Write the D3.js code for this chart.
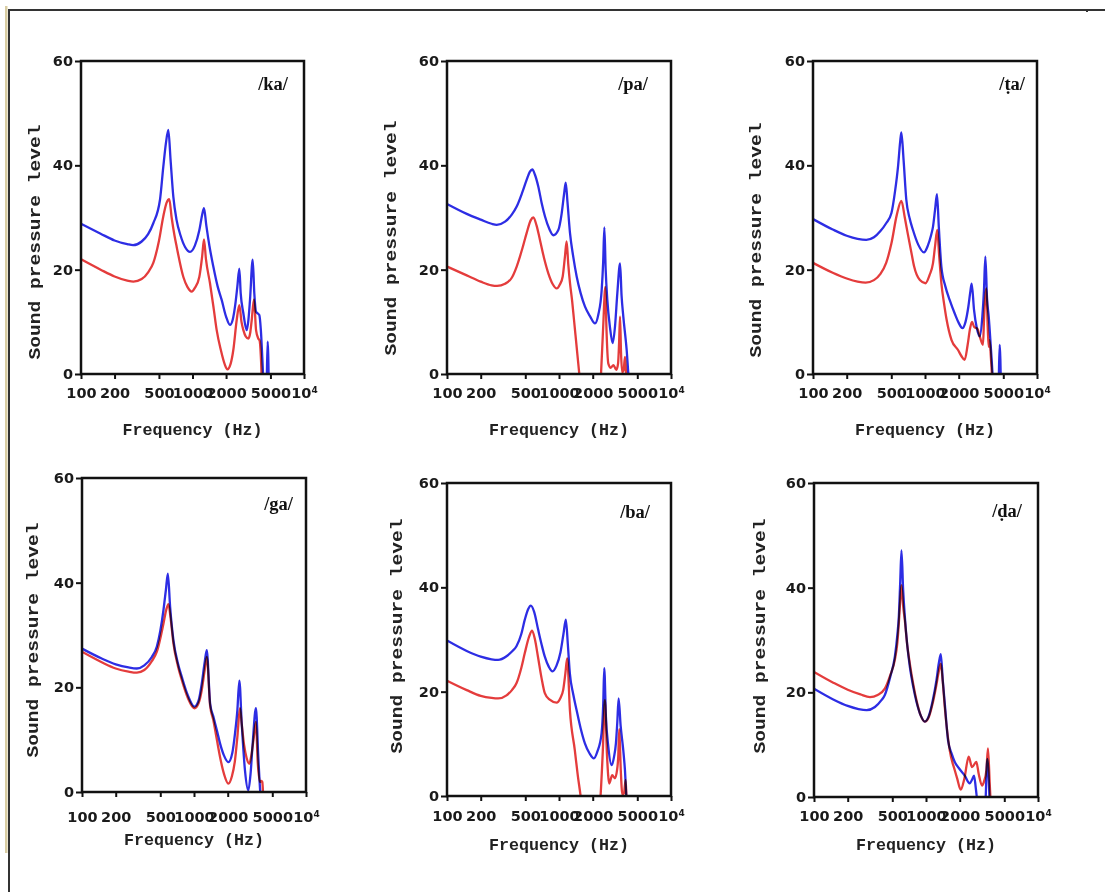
<!DOCTYPE html>
<html lang="en">
  <head>
    <meta charset="utf-8">
    <title>Sound pressure level vs frequency</title>
    <script src="https://cdn.jsdelivr.net/npm/d3@7/dist/d3.min.js"></script>
    <style type="text/css">
body,html{
    margin: 0;
    padding: 0;
    background: #fff;
  }
svg { display: block; }
.tick text{
    font-family: "DejaVu Sans", sans-serif;
    font-weight: bold;
    font-size: 14.5px;
    fill: #1a1a1a;
  }
.tick line{ stroke: #111; stroke-width: 2; }
.title{
    font-family: "Liberation Mono", "DejaVu Sans Mono", monospace;
    font-weight: bold;
    font-size: 17px;
    fill: #222;
  }
.phon{
    font-family: "Liberation Serif", "DejaVu Serif", serif;
    font-weight: bold;
    font-size: 18.5px;
    fill: #111;
  }
    </style>
  </head>
  <body>
    <script type="text/javascript">
      const w = 1105;
      const h = 892;

      // panel labels and axis ticks
      const phonemes = ["/ka/", "/pa/", "/ṭa/", "/ga/", "/ba/", "/ḍa/"];
      const xTicks = [100, 200, 500, 1000, 2000, 5000, 10000];
      const yTicks = [0, 20, 40, 60];
      const xTitle = "Frequency (Hz)";
      const yTitle = "Sound pressure level";

      // [frequency Hz, dB] (below 0 = off the bottom of the plot)
      const kaBlue = [[100,28.8],[150,26.9],[200,25.6],[260,24.9],[293,24.7],[350,25.4],[400,26.8],[445,28.9],[511,33.4],[547,39.7],[578,44.3],[607,46.8],[636,41.0],[673,34.0],[720,29.5],[780,26.6],[860,24.3],[950,23.4],[1050,24.6],[1150,27.5],[1220,30.5],[1268,31.8],[1330,28.5],[1420,24.5],[1537,20.6],[1680,16.8],[1827,14.2],[2000,11.0],[2168,9.4],[2300,10.5],[2405,12.9],[2523,16.7],[2630,20.2],[2705,15.5],[2856,11.7],[3063,8.4],[3170,10.3],[3279,14.2],[3466,21.9],[3583,15.5],[3715,11.9],[3850,11.6],[3972,11.3],[4100,8.5],[4230,3.0],[4318,-1],[4450,-3],[4600,-3],[4724,6.2],[4840,-3]];
      const kaRed = [[100,22.0],[150,20.0],[200,18.7],[260,17.9],[295,17.7],[350,18.2],[400,19.5],[445,21.3],[500,25.5],[547,30.2],[585,32.8],[619,33.5],[650,30.0],[690,26.5],[721,24.4],[828,18.6],[900,16.7],[984,15.8],[1050,16.5],[1151,18.6],[1220,22.5],[1268,25.8],[1320,22.0],[1435,17.4],[1550,12.5],[1648,8.4],[1800,4.5],[1950,1.8],[2052,0.9],[2200,2.0],[2323,4.6],[2490,10.3],[2630,13.2],[2750,10.0],[2860,8.4],[3000,7.2],[3170,6.8],[3300,8.0],[3396,10.3],[3562,14.3],[3715,8.4],[3890,6.8],[4000,6.4],[4120,2.5],[4180,-1],[4300,-3]];

      const paBlue = [[100,32.6],[150,30.7],[200,29.6],[250,28.8],[278,28.6],[330,29.2],[380,30.6],[419,32.1],[470,34.8],[514,37.2],[550,38.8],[578,39.2],[610,38.2],[654,35.9],[700,32.8],[750,30.2],[820,27.8],[890,26.6],[986,27.6],[1057,30.8],[1110,34.5],[1148,36.7],[1190,33.0],[1254,27.0],[1340,22.5],[1438,18.7],[1560,15.5],[1707,12.9],[1900,11.0],[2096,9.7],[2250,11.5],[2405,16.1],[2480,21.5],[2541,28.1],[2610,20.0],[2700,14.2],[2850,9.0],[3015,5.9],[3162,9.1],[3318,15.5],[3508,21.2],[3620,15.0],[3752,11.0],[4020,4.6],[4200,-1],[4400,-3]];
      const paRed = [[100,20.6],[150,18.9],[200,17.7],[250,17.0],[280,16.9],[330,17.3],[380,18.5],[419,20.6],[470,24.0],[514,27.0],[560,29.5],[590,30.0],[630,28.5],[676,25.7],[740,22.0],[803,19.3],[880,17.2],[953,16.4],[1020,17.2],[1079,18.7],[1130,22.5],[1170,25.4],[1210,21.0],[1254,17.4],[1310,14.0],[1361,10.4],[1440,5.0],[1518,0],[1600,-5],[2300,-5],[2372,0],[2480,9.0],[2592,16.7],[2650,9.0],[2757,2.0],[2900,1.2],[3060,1.7],[3252,0.8],[3367,2.0],[3440,6.0],[3508,11.0],[3580,4.0],[3674,0.3],[3780,0.8],[3884,3.3],[3960,0.5],[4020,-1],[4150,-3]];

      const taBlue = [[100,29.7],[150,27.7],[200,26.5],[250,25.9],[299,25.7],[350,26.2],[400,27.4],[450,28.9],[501,30.8],[540,35.0],[574,39.7],[600,44.5],[615,46.3],[644,41.0],[681,33.4],[730,29.8],[781,27.6],[870,24.8],[979,23.3],[1060,24.6],[1130,26.5],[1178,28.2],[1230,31.5],[1279,34.5],[1330,28.0],[1400,20.6],[1520,16.8],[1660,14.2],[1850,11.5],[2000,9.8],[2158,8.8],[2300,10.0],[2438,12.9],[2540,15.8],[2612,17.3],[2740,12.3],[2900,8.8],[3076,7.2],[3250,11.0],[3360,16.0],[3459,22.5],[3580,14.5],[3706,11.0],[3917,3.5],[4046,-1],[4250,-3],[4520,-3],[4645,5.6],[4770,-3]];
      const taRed = [[100,21.3],[150,19.4],[200,18.3],[250,17.7],[295,17.5],[350,18.0],[400,19.2],[450,21.3],[501,25.0],[560,30.5],[615,33.2],[660,30.0],[700,27.0],[760,23.0],[800,20.6],[900,18.0],[1009,17.4],[1100,19.0],[1178,21.2],[1230,24.5],[1285,27.6],[1340,22.5],[1400,17.4],[1480,13.5],[1560,10.4],[1726,6.5],[1972,4.6],[2120,3.4],[2259,2.7],[2400,5.5],[2530,8.8],[2630,10.0],[2750,9.0],[2932,8.7],[3100,7.0],[3295,5.6],[3365,10.4],[3535,16.4],[3630,9.0],[3706,5.2],[3778,6.5],[3880,3.0],[3990,-1],[4150,-3]];

      const gaBlue = [[100,27.4],[150,25.5],[200,24.4],[260,23.8],[309,23.6],[360,24.2],[420,25.8],[466,27.8],[534,34.8],[561,38.6],[584,41.7],[612,35.4],[655,29.0],[720,24.5],[778,22.0],[880,18.5],[1009,16.3],[1100,17.5],[1173,20.7],[1240,24.5],[1300,27.1],[1393,16.9],[1489,14.4],[1600,11.8],[1708,9.3],[1850,7.0],[2027,5.7],[2200,7.5],[2324,11.2],[2438,15.6],[2541,21.3],[2667,13.1],[2853,4.1],[3055,0.3],[3200,3.5],[3342,9.3],[3573,16.0],[3750,6.7],[3936,-1],[4100,-3]];
      const gaRed = [[100,26.8],[150,24.8],[200,23.6],[260,23.0],[309,22.8],[360,23.3],[420,25.0],[466,26.8],[534,32.2],[565,34.8],[591,35.9],[620,33.0],[655,28.4],[720,24.0],[778,21.4],[880,18.0],[1009,16.0],[1100,17.0],[1173,19.5],[1240,23.0],[1300,25.8],[1393,16.5],[1489,13.7],[1600,10.0],[1708,6.7],[1850,3.5],[2027,1.6],[2180,3.0],[2324,6.1],[2438,10.5],[2576,16.0],[2667,13.0],[2800,9.0],[2950,6.5],[3117,5.4],[3250,7.0],[3400,10.0],[3573,13.4],[3700,6.0],[3884,1.9],[4000,2.1],[4072,1.9],[4157,-1],[4300,-3]];

      const baBlue = [[100,29.8],[150,27.8],[200,26.7],[250,26.2],[286,26.1],[340,26.8],[380,27.7],[417,28.7],[460,31.0],[495,33.8],[530,35.8],[560,36.5],[600,35.3],[651,31.9],[700,29.0],[747,26.7],[810,24.8],[875,23.9],[950,25.0],[1030,27.5],[1095,31.0],[1151,33.8],[1200,29.0],[1250,23.5],[1340,19.5],[1435,16.5],[1560,13.0],[1703,10.1],[1870,8.2],[2049,7.2],[2200,8.5],[2400,12.0],[2483,17.7],[2535,24.5],[2624,15.2],[2754,9.5],[2951,5.9],[3100,7.5],[3222,10.1],[3311,13.9],[3405,18.7],[3550,13.5],[3748,8.8],[3879,5.0],[4018,-1],[4200,-3]];
      const baRed = [[100,22.1],[150,20.3],[200,19.2],[250,18.8],[286,18.7],[340,19.3],[380,20.3],[417,21.6],[460,24.5],[495,27.4],[540,30.5],[575,31.7],[610,30.0],[651,26.5],[700,22.5],[747,19.7],[820,18.5],[951,17.9],[1030,18.8],[1089,20.3],[1140,23.5],[1183,26.4],[1251,16.5],[1384,8.8],[1470,4.0],[1559,0],[1650,-5],[2250,-5],[2350,0],[2460,8.5],[2570,18.4],[2680,8.0],[2810,2.4],[2987,4.0],[3157,3.4],[3300,5.0],[3380,7.5],[3451,12.8],[3560,5.0],[3680,0.3],[3800,0.5],[3936,3.1],[4018,-1],[4200,-3]];

      const daBlue = [[100,20.7],[150,18.6],[200,17.4],[250,16.8],[295,16.6],[350,17.2],[400,18.5],[429,19.5],[480,23.0],[527,26.8],[555,31.0],[572,34.5],[588,40.8],[604,47.1],[625,39.6],[647,34.5],[680,29.0],[717,24.9],[770,21.0],[822,18.2],[900,15.5],[975,14.4],[1060,15.5],[1150,18.5],[1240,22.3],[1300,25.5],[1355,27.3],[1412,22.3],[1471,17.9],[1574,10.8],[1700,8.2],[1807,6.7],[2000,5.3],[2218,4.1],[2455,2.6],[2600,3.5],[2684,4.1],[2780,1.8],[2877,-1],[3000,-3],[3350,-3],[3533,7.3],[3720,-3]];
      const daRed = [[100,23.9],[150,21.8],[200,20.5],[260,19.6],[316,19.1],[370,19.5],[429,20.7],[480,23.3],[527,26.2],[555,29.5],[572,33.2],[588,37.5],[604,40.5],[625,36.5],[647,33.8],[680,29.0],[717,25.5],[770,21.5],[822,18.5],[900,15.5],[975,14.4],[1060,15.3],[1150,18.0],[1240,21.5],[1300,24.0],[1355,25.5],[1412,22.0],[1471,17.2],[1629,8.9],[1807,5.1],[1900,3.5],[2042,1.4],[2200,3.5],[2406,7.7],[2576,5.7],[2818,6.7],[2950,4.5],[3162,2.2],[3300,3.0],[3460,5.1],[3573,9.3],[3706,2.6],[3782,-1],[3900,-3]];

      const blueSeries = [kaBlue, paBlue, taBlue, gaBlue, baBlue, daBlue];
      const redSeries = [kaRed, paRed, taRed, gaRed, baRed, daRed];

      // where each panel sits on the page
      const layout = [
        {x: 81,  y: 61,  w: 223, h: 313, ylx: 35,  yly: 242, xly: 430, pad: 9,  phx: 288,  phy: 90},
        {x: 447, y: 61,  w: 224, h: 313, ylx: 391, yly: 238, xly: 430, pad: 9,  phx: 648,  phy: 90},
        {x: 813, y: 61,  w: 224, h: 313, ylx: 756, yly: 240, xly: 430, pad: 9,  phx: 1025, phy: 90},
        {x: 82,  y: 478, w: 224, h: 314, ylx: 33,  yly: 640, xly: 840, pad: 15, phx: 293,  phy: 510},
        {x: 447, y: 483, w: 224, h: 313, ylx: 397, yly: 636, xly: 845, pad: 10, phx: 650,  phy: 518},
        {x: 814, y: 483, w: 224, h: 314, ylx: 760, yly: 636, xly: 845, pad: 9,  phx: 1022, phy: 517}
      ];

      const blue = "#2d2de4";
      const red = "#e43c3c";

      const svg = d3.select("body")
        .append("svg")
        .attr("width", w)
        .attr("height", h);

      // page frame
      svg.append("rect").attr("x", 5).attr("y", 6).attr("width", 2.5).attr("height", 847).attr("fill", "#d9cda2");
      svg.append("line").attr("x1", 9).attr("y1", 9).attr("x2", 9).attr("y2", h).attr("stroke", "#333").attr("stroke-width", 2);
      svg.append("line").attr("x1", 8).attr("y1", 10).attr("x2", w).attr("y2", 10).attr("stroke", "#333").attr("stroke-width", 2);
      svg.append("rect").attr("x", 1086).attr("y", 10).attr("width", 2).attr("height", 2).attr("fill", "#333");

      layout.forEach(function(L, i){
        const g = svg.append("g").attr("transform", "translate(" + L.x + "," + L.y + ")");

        const x = d3.scaleLog().domain([100, 10000]).range([0, L.w]);
        const y = d3.scaleLinear().domain([0, 60]).range([L.h, 0]);

        const line = d3.line()
          .x(d => x(d[0]))
          .y(d => y(d[1]))
          .curve(d3.curveMonotoneX);

        g.append("clipPath").attr("id", "clip" + i)
          .append("rect").attr("width", L.w).attr("height", L.h);

        const lines = g.append("g").attr("clip-path", "url(#clip" + i + ")");
        [[blueSeries[i], blue], [redSeries[i], red]].forEach(function(s){
          lines.append("path")
            .datum(s[0])
            .attr("d", line)
            .attr("fill", "none")
            .attr("stroke", s[1])
            .attr("stroke-width", 2.3)
            .attr("stroke-linejoin", "round")
            .style("mix-blend-mode", "multiply");
        });

        // axes
        const xAxis = g.append("g")
          .attr("transform", "translate(0," + L.h + ")")
          .call(d3.axisBottom(x).tickValues(xTicks).tickSize(5).tickPadding(L.pad)
            .tickFormat(d => d === 10000 ? "10" : String(d)));
        xAxis.select(".domain").remove();
        xAxis.selectAll(".tick text").filter(d => d === 10000)
          .append("tspan").attr("dy", "-0.55em").attr("font-size", "9px").text("4");

        const yAxis = g.append("g")
          .call(d3.axisLeft(y).tickValues(yTicks).tickSize(6).tickPadding(2));
        yAxis.select(".domain").remove();

        g.append("rect")
          .attr("width", L.w).attr("height", L.h)
          .attr("fill", "none").attr("stroke", "#111").attr("stroke-width", 2.5);

        // titles
        svg.append("text").attr("class", "title")
          .attr("x", L.x + L.w / 2).attr("y", L.xly)
          .attr("text-anchor", "middle").attr("dominant-baseline", "central")
          .attr("textLength", 140).attr("lengthAdjust", "spacingAndGlyphs")
          .text(xTitle);

        svg.append("text").attr("class", "title")
          .attr("transform", "translate(" + L.ylx + "," + L.yly + ") rotate(-90)")
          .attr("text-anchor", "middle").attr("dominant-baseline", "central")
          .attr("textLength", 235).attr("lengthAdjust", "spacingAndGlyphs")
          .text(yTitle);

        svg.append("text").attr("class", "phon")
          .attr("x", L.phx).attr("y", L.phy)
          .attr("text-anchor", "end")
          .text(phonemes[i]);
      });
    </script>
  </body>
</html>
